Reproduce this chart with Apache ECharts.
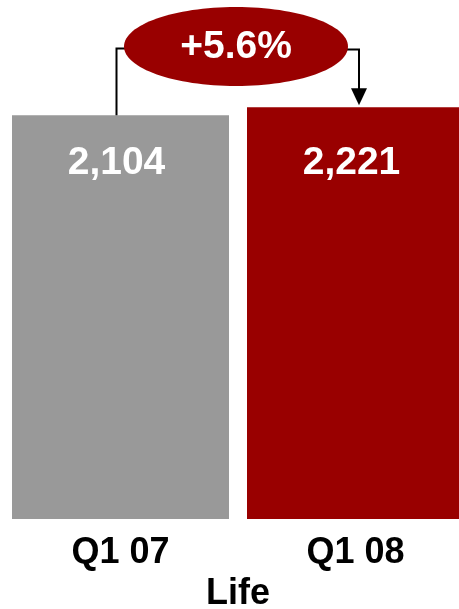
<!DOCTYPE html>
<html>
<head>
<meta charset="utf-8">
<title>Life</title>
<script src="https://cdn.jsdelivr.net/npm/echarts@6/dist/echarts.min.js"></script>
<style>
  html, body { margin: 0; padding: 0; background: #ffffff; }
  #chart { width: 459px; height: 609px; }
</style>
</head>
<body>
<div id="chart"></div>
<script>
// Quarterly figures for the Life segment
const categories = ['Q1 07', 'Q1 08'];
const values = [2104, 2221];
const barColors = ['#999999', '#990000'];
const groupName = 'Life';

const FONT = "'Liberation Sans', Arial, Helvetica, sans-serif";
const fmt = v => v.toLocaleString('en-US');

// Growth from the first quarter to the second, shown in the bubble
const growth = (values[1] / values[0] - 1) * 100;
const growthText = (growth >= 0 ? '+' : '') + growth.toFixed(1) + '%';

// Truncated value axis: bars rise from the axis floor, not from zero
const Y_MIN = -3800;
const Y_MAX = 3790;
const BAR_W = 217;
// Value labels sit on one common line across both bars
const labelDistances = [28, 36];

const chart = echarts.init(document.getElementById('chart'), null, { renderer: 'canvas' });

chart.setOption({
  animation: false,
  backgroundColor: '#ffffff',
  grid: { left: 3, width: 470, top: 0, bottom: 90, outerBoundsMode: 'none', containLabel: false },
  xAxis: {
    type: 'category',
    data: categories,
    axisLine: { show: false },
    axisTick: { show: false },
    axisLabel: {
      margin: 16,
      fontFamily: FONT,
      fontSize: 36,
      fontWeight: 'bold',
      color: '#000000'
    },
    name: groupName,
    nameLocation: 'middle',
    nameGap: 57,
    nameTextStyle: {
      fontFamily: FONT,
      fontSize: 36,
      fontWeight: 'bold',
      color: '#000000'
    }
  },
  yAxis: {
    type: 'value',
    min: Y_MIN,
    max: Y_MAX,
    show: false,
    splitLine: { show: false }
  },
  series: [{
    type: 'custom',
    data: values.map((v, i) => [i, v]),
    encode: { x: 0, y: 1 },
    clip: false,
    renderItem: (params, api) => {
      const idx = api.value(0);
      const top = api.coord([idx, api.value(1)]);
      const base = api.coord([idx, Y_MIN]);
      return {
        type: 'rect',
        shape: {
          x: top[0] - BAR_W / 2,
          y: top[1],
          width: BAR_W,
          height: base[1] - top[1]
        },
        style: { fill: barColors[idx] },
        textContent: {
          style: {
            text: fmt(api.value(1)),
            fill: '#ffffff',
            font: 'bold 39px ' + FONT
          }
        },
        textConfig: {
          position: 'insideTop',
          distance: labelDistances[idx],
          offset: [-4, 0]
        }
      };
    }
  }]
});

// Connector from the first bar to the growth bubble and on to the second bar
const p0 = chart.convertToPixel({ gridIndex: 0 }, [0, values[0]]);
const p1 = chart.convertToPixel({ gridIndex: 0 }, [1, values[1]]);
const lx = p0[0] - 4;
const rx = p1[0] + 3.5;
const cx = 236, cy = 46.5, erx = 112, ery = 39.5;
const lineStyle = { stroke: '#000000', lineWidth: 2, fill: null };

chart.setOption({
  graphic: [
    {
      type: 'polyline',
      z: 10,
      shape: { points: [[lx, p0[1]], [lx, cy + 2], [cx - erx + 20, cy + 2]] },
      style: lineStyle
    },
    {
      type: 'polyline',
      z: 10,
      shape: { points: [[cx + erx - 20, cy + 3], [rx, cy + 3], [rx, p1[1] - 18]] },
      style: lineStyle
    },
    {
      type: 'polygon',
      z: 10,
      shape: { points: [[rx - 8, p1[1] - 19], [rx + 8, p1[1] - 19], [rx, p1[1] - 2]] },
      style: { fill: '#000000' }
    },
    {
      type: 'ellipse',
      z: 20,
      shape: { cx: cx, cy: cy, rx: erx, ry: ery },
      style: { fill: '#990000' }
    },
    {
      type: 'text',
      z: 30,
      x: cx,
      y: cy + 1,
      style: {
        text: growthText,
        fill: '#ffffff',
        font: 'bold 39px ' + FONT,
        align: 'center',
        verticalAlign: 'middle'
      }
    }
  ]
});
</script>
</body>
</html>
